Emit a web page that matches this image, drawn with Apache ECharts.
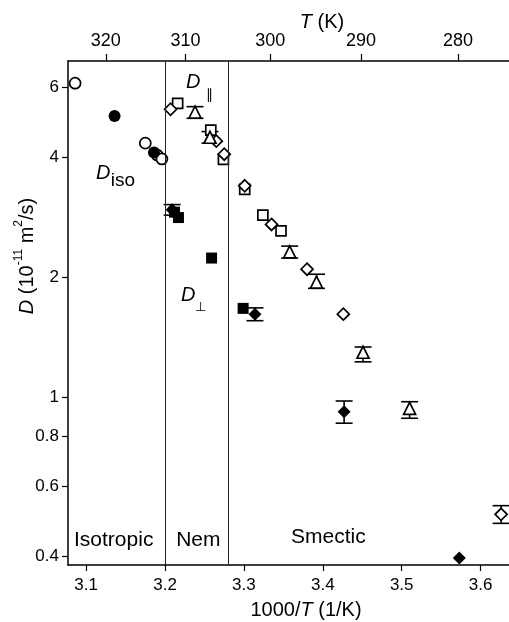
<!DOCTYPE html>
<html><head><meta charset="utf-8">
<script src="https://cdn.jsdelivr.net/npm/echarts@6/dist/echarts.min.js"></script>
<style>html,body{margin:0;padding:0;background:#fff}#c{width:509px;height:622px}</style>
</head><body><div id="c"></div>
<script>
// ---- axis ticks ----
const xTicks = [3.1, 3.2, 3.3, 3.4, 3.5, 3.6];
const yTicks = [0.4, 0.6, 0.8, 1, 2, 4, 6];
const tTicks = [320, 310, 300, 290, 280];
const phaseBoundaries = [3.203, 3.280];

// ---- D_iso ----
const isoOpenX = [3.086, 3.175, 3.190, 3.196];
const isoOpenY = [6.15, 4.35, 4.06, 3.97];
const isoFilledX = [3.136, 3.186];
const isoFilledY = [5.09, 4.12];

// ---- D_parallel ----
const parSquareX = [3.216, 3.258, 3.274, 3.301, 3.324, 3.347];
const parSquareY = [5.47, 4.69, 3.96, 3.33, 2.87, 2.62];
const parDiamondX = [3.207, 3.265, 3.275, 3.301, 3.335, 3.380, 3.426, 3.626];
const parDiamondY = [5.29, 4.40, 4.08, 3.40, 2.72, 2.10, 1.62, 0.51];
const parDiamondErrX = [3.626];
const parDiamondErrLo = [0.484];
const parDiamondErrHi = [0.536];
const parTriangleX = [3.238, 3.257, 3.358, 3.392, 3.451, 3.510];
const parTriangleY = [5.20, 4.50, 2.32, 1.95, 1.30, 0.94];
const parTriangleLo = [5.02, 4.35, 2.24, 1.88, 1.23, 0.888];
const parTriangleHi = [5.37, 4.65, 2.40, 2.04, 1.34, 0.977];

// ---- D_perp ----
const perpSquareX = [3.212, 3.217, 3.259, 3.299];
const perpSquareY = [2.92, 2.83, 2.24, 1.675];
const perpDiamondX = [3.209, 3.314, 3.427, 3.573];
const perpDiamondY = [2.96, 1.62, 0.922, 0.396];
const perpDiamondErrX = [3.209, 3.314, 3.427];
const perpDiamondErrLo = [2.87, 1.56, 0.863];
const perpDiamondErrHi = [3.05, 1.68, 0.981];

const zip = (a, b) => a.map((v, i) => [v, b[i]]);
const zip3 = (a, b, c) => a.map((v, i) => [v, b[i], c[i]]);

const FONT = '"Liberation Sans", Arial, Helvetica, sans-serif';
const openStyle = {color: '#fff', borderColor: '#000', borderWidth: 1.7, opacity: 1};
const fillStyle = {color: '#000', borderColor: '#000', borderWidth: 0, opacity: 1};

function errRender(params, api) {
  const x = api.value(0), lo = api.value(1), hi = api.value(2);
  const pLo = api.coord([x, lo]), pHi = api.coord([x, hi]);
  const w = 8.5;
  const style = {stroke: '#000', lineWidth: 1.6, fill: null};
  return {type: 'group', children: [
    {type: 'line', shape: {x1: pLo[0], y1: pLo[1], x2: pHi[0], y2: pHi[1]}, style: style},
    {type: 'line', shape: {x1: pLo[0] - w, y1: pLo[1], x2: pLo[0] + w, y2: pLo[1]}, style: style},
    {type: 'line', shape: {x1: pHi[0] - w, y1: pHi[1], x2: pHi[0] + w, y2: pHi[1]}, style: style}
  ]};
}
function errSeries(x, lo, hi) {
  return {type: 'custom', z: 1, renderItem: errRender, data: zip3(x, lo, hi),
          encode: {x: 0, y: [1, 2]}, silent: true, clip: false};
}
function scatter(x, y, symbol, size, style) {
  return {type: 'scatter', z: 3, symbol: symbol, symbolSize: size, data: zip(x, y),
          itemStyle: style, silent: true};
}

const chart = echarts.init(document.getElementById('c'), null, {renderer: 'canvas'});
const axisLineStyle = {color: '#000', width: 1.5};
const option = {
  animation: false,
  backgroundColor: '#fff',
  grid: {left: 68, top: 61, right: 0, bottom: 57, containLabel: false},
  xAxis: [
    {type: 'value', position: 'bottom', min: 3.077, max: 3.636,
     axisLine: {show: true, onZero: false, lineStyle: axisLineStyle},
     axisTick: {show: true, inside: false, length: 6, lineStyle: {color: '#000', width: 1.2}, customValues: xTicks},
     axisLabel: {customValues: xTicks, formatter: v => v.toFixed(1), color: '#000', fontSize: 17, fontFamily: FONT, margin: 12},
     splitLine: {show: false}},
    {type: 'value', position: 'top', min: 3.077, max: 3.636,
     axisLine: {show: true, onZero: false, lineStyle: axisLineStyle},
     axisTick: {show: true, inside: false, length: 7, lineStyle: {color: '#000', width: 1.2}, customValues: tTicks.map(t => 1000 / t)},
     axisLabel: {customValues: tTicks.map(t => 1000 / t), formatter: v => String(Math.round(1000 / v)), color: '#000', fontSize: 18, fontFamily: FONT, margin: 11},
     splitLine: {show: false}}
  ],
  yAxis: {type: 'log', min: 0.3805, max: 6.99, logBase: 10,
    axisLine: {show: true, onZero: false, lineStyle: axisLineStyle},
    axisTick: {show: true, inside: false, length: 6, lineStyle: {color: '#000', width: 1.2}, customValues: yTicks},
    axisLabel: {customValues: yTicks, formatter: v => String(+v.toFixed(1)), color: '#000', fontSize: 17, fontFamily: FONT, margin: 9},
    minorTick: {show: false},
    splitLine: {show: false}},
  series: [
    {type: 'line', data: [], markLine: {silent: true, symbol: ['none', 'none'], label: {show: false},
      lineStyle: {color: '#222', width: 1, type: 'solid'},
      data: phaseBoundaries.map(v => ({xAxis: v}))}},
    errSeries(parTriangleX, parTriangleLo, parTriangleHi),
    errSeries(parDiamondErrX, parDiamondErrLo, parDiamondErrHi),
    errSeries(perpDiamondErrX, perpDiamondErrLo, perpDiamondErrHi),
    scatter(isoOpenX, isoOpenY, 'circle', 11, openStyle),
    scatter(isoFilledX, isoFilledY, 'circle', 12, fillStyle),
    scatter(parSquareX, parSquareY, 'rect', 10, openStyle),
    scatter(parDiamondX, parDiamondY, 'diamond', 12, openStyle),
    scatter(parTriangleX, parTriangleY, 'triangle', 12, openStyle),
    scatter(perpSquareX, perpSquareY, 'rect', 11, fillStyle),
    scatter(perpDiamondX, perpDiamondY, 'diamond', 13, fillStyle)
  ],
  graphic: [
    {type: 'text', x: 322, y: 22, style: {text: '{i|T} (K)', font: '20px ' + FONT, fill: '#000',
      align: 'center', verticalAlign: 'middle', textAlign: 'center', textVerticalAlign: 'middle',
      rich: {i: {fontStyle: 'italic', fontSize: 20, fontFamily: FONT}}}},
    {type: 'text', x: 306, y: 610, style: {text: '1000/{i|T} (1/K)', font: '20px ' + FONT, fill: '#000',
      align: 'center', verticalAlign: 'middle', textAlign: 'center', textVerticalAlign: 'middle',
      rich: {i: {fontStyle: 'italic', fontSize: 20, fontFamily: FONT}}}},
    {type: 'text', x: 25, y: 256, rotation: Math.PI / 2, style: {
      text: '{i|D}{n| (10}{s|-11}{n| m}{s|2}{n|/s)}', fill: '#000',
      align: 'center', verticalAlign: 'middle', textAlign: 'center', textVerticalAlign: 'middle',
      rich: {i: {fontStyle: 'italic', fontSize: 20, fontFamily: FONT, lineHeight: 24, verticalAlign: 'bottom'},
             n: {fontSize: 20, fontFamily: FONT, lineHeight: 24, verticalAlign: 'bottom'},
             s: {fontSize: 12, fontFamily: FONT, lineHeight: 24, verticalAlign: 'top'}}}},
    {type: 'text', x: 113.7, y: 540, style: {text: 'Isotropic', font: '21px ' + FONT, fill: '#000', align: 'center', verticalAlign: 'middle', textAlign: 'center', textVerticalAlign: 'middle'}},
    {type: 'text', x: 198.3, y: 540, style: {text: 'Nem', font: '21px ' + FONT, fill: '#000', align: 'center', verticalAlign: 'middle', textAlign: 'center', textVerticalAlign: 'middle'}},
    {type: 'text', x: 328.3, y: 537, style: {text: 'Smectic', font: '21px ' + FONT, fill: '#000', align: 'center', verticalAlign: 'middle', textAlign: 'center', textVerticalAlign: 'middle'}},
    {type: 'text', x: 103.3, y: 173, style: {text: 'D', font: 'italic 20px ' + FONT, fill: '#000', align: 'center', verticalAlign: 'middle', textAlign: 'center', textVerticalAlign: 'middle'}},
    {type: 'text', x: 123, y: 181, style: {text: 'iso', font: '19px ' + FONT, fill: '#000', align: 'center', verticalAlign: 'middle', textAlign: 'center', textVerticalAlign: 'middle'}},
    {type: 'text', x: 193.3, y: 82, style: {text: 'D', font: 'italic 20px ' + FONT, fill: '#000', align: 'center', verticalAlign: 'middle', textAlign: 'center', textVerticalAlign: 'middle'}},
    {type: 'text', x: 209, y: 95, style: {text: '\u2225', font: '14px ' + FONT, fill: '#000', align: 'center', verticalAlign: 'middle', textAlign: 'center', textVerticalAlign: 'middle'}},
    {type: 'text', x: 188.3, y: 295, style: {text: 'D', font: 'italic 20px ' + FONT, fill: '#000', align: 'center', verticalAlign: 'middle', textAlign: 'center', textVerticalAlign: 'middle'}},
    {type: 'text', x: 200, y: 307, style: {text: '\u22a5', font: '13px ' + FONT, fill: '#000', align: 'center', verticalAlign: 'middle', textAlign: 'center', textVerticalAlign: 'middle'}}
  ]
};
chart.setOption(option);
</script></body></html>
